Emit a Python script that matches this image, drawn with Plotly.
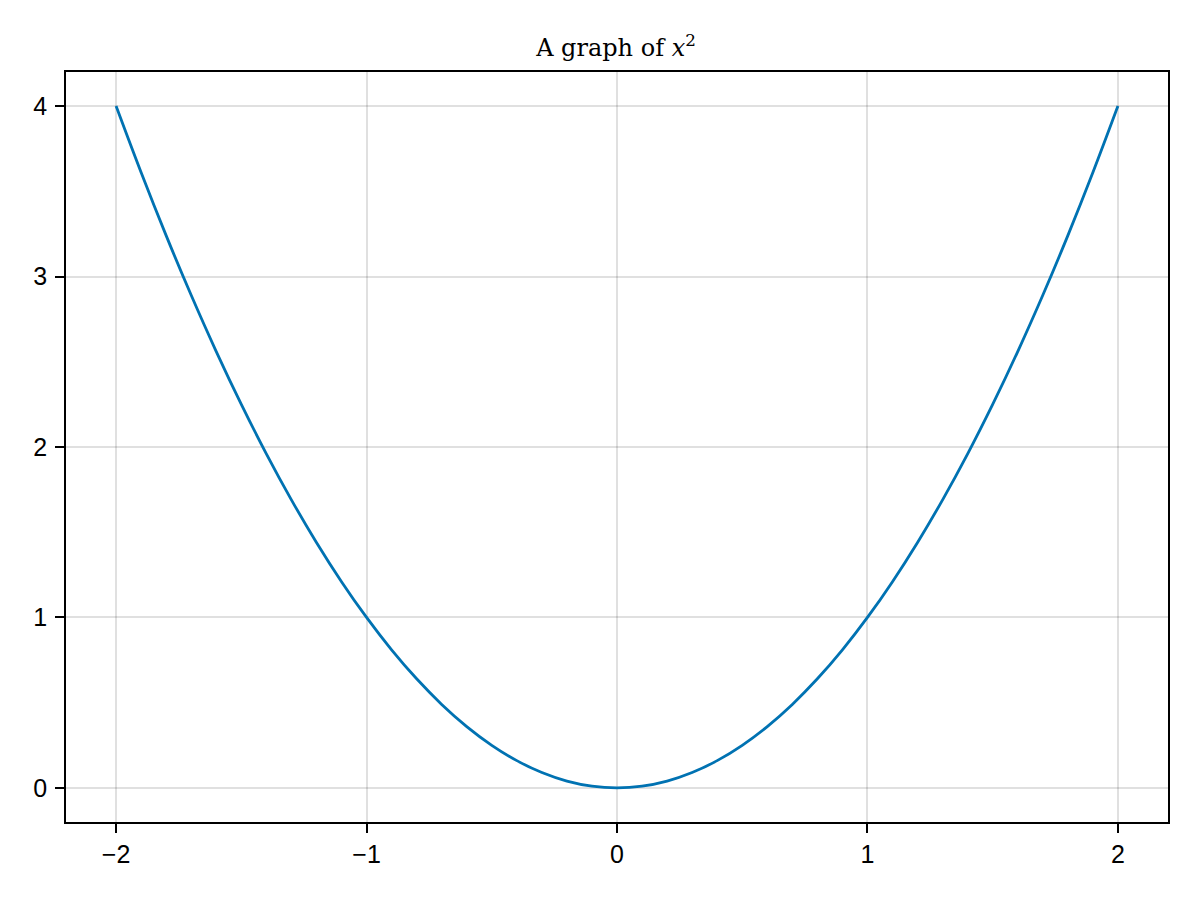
import plotly.graph_objects as go

# Points
x_vals = [-2.0, -1.9, -1.8, -1.7, -1.6, -1.5, -1.4, -1.3, -1.2, -1.1, -1.0,
          -0.9, -0.8, -0.7, -0.6, -0.5, -0.4, -0.3, -0.2, -0.1, 0.0,
          0.1, 0.2, 0.3, 0.4, 0.5, 0.6, 0.7, 0.8, 0.9, 1.0,
          1.1, 1.2, 1.3, 1.4, 1.5, 1.6, 1.7, 1.8, 1.9, 2.0]
y_vals = [4.0, 3.61, 3.24, 2.89, 2.56, 2.25, 1.96, 1.69, 1.44, 1.21, 1.0,
          0.81, 0.64, 0.49, 0.36, 0.25, 0.16, 0.09, 0.04, 0.01, 0.0,
          0.01, 0.04, 0.09, 0.16, 0.25, 0.36, 0.49, 0.64, 0.81, 1.0,
          1.21, 1.44, 1.69, 1.96, 2.25, 2.56, 2.89, 3.24, 3.61, 4.0]

x_ticks = [-2, -1, 0, 1, 2]
x_tick_labels = ["−2", "−1", "0", "1", "2"]
y_ticks = [0, 1, 2, 3, 4]
y_tick_labels = ["0", "1", "2", "3", "4"]

fig = go.Figure()
fig.add_trace(go.Scatter(x=x_vals, y=y_vals, mode="lines",
                         line=dict(color="#0072B2", width=2.8, shape="spline"),
                         showlegend=False))

axis_common = dict(
    showline=True, linecolor="black", linewidth=1.5, mirror=True,
    ticks="outside", ticklen=9, tickwidth=1.5, tickcolor="black",
    showgrid=True, gridcolor="rgba(0,0,0,0.12)", gridwidth=1.5,
    zeroline=False,
    tickfont=dict(family="Liberation Sans, Arial, sans-serif", size=25, color="black"),
)

fig.update_xaxes(range=[-2.2, 2.2], tickvals=x_ticks, ticktext=x_tick_labels, **axis_common)
fig.update_yaxes(range=[-0.2, 4.2], tickvals=y_ticks, ticktext=y_tick_labels,
                 ticklabelstandoff=3, **axis_common)

fig.update_layout(
    width=1200, height=900,
    margin=dict(l=58, r=40, t=64, b=86),
    plot_bgcolor="white", paper_bgcolor="white",
    title=dict(text="A graph of <i>x</i><sup>2</sup>", x=(616 - 8) / 1200, xanchor="center",
               y=1 - 40 / 900, yanchor="middle",
               font=dict(family="DejaVu Serif, Liberation Serif, serif", size=24, color="black")),
)

fig.write_html("out.html")
